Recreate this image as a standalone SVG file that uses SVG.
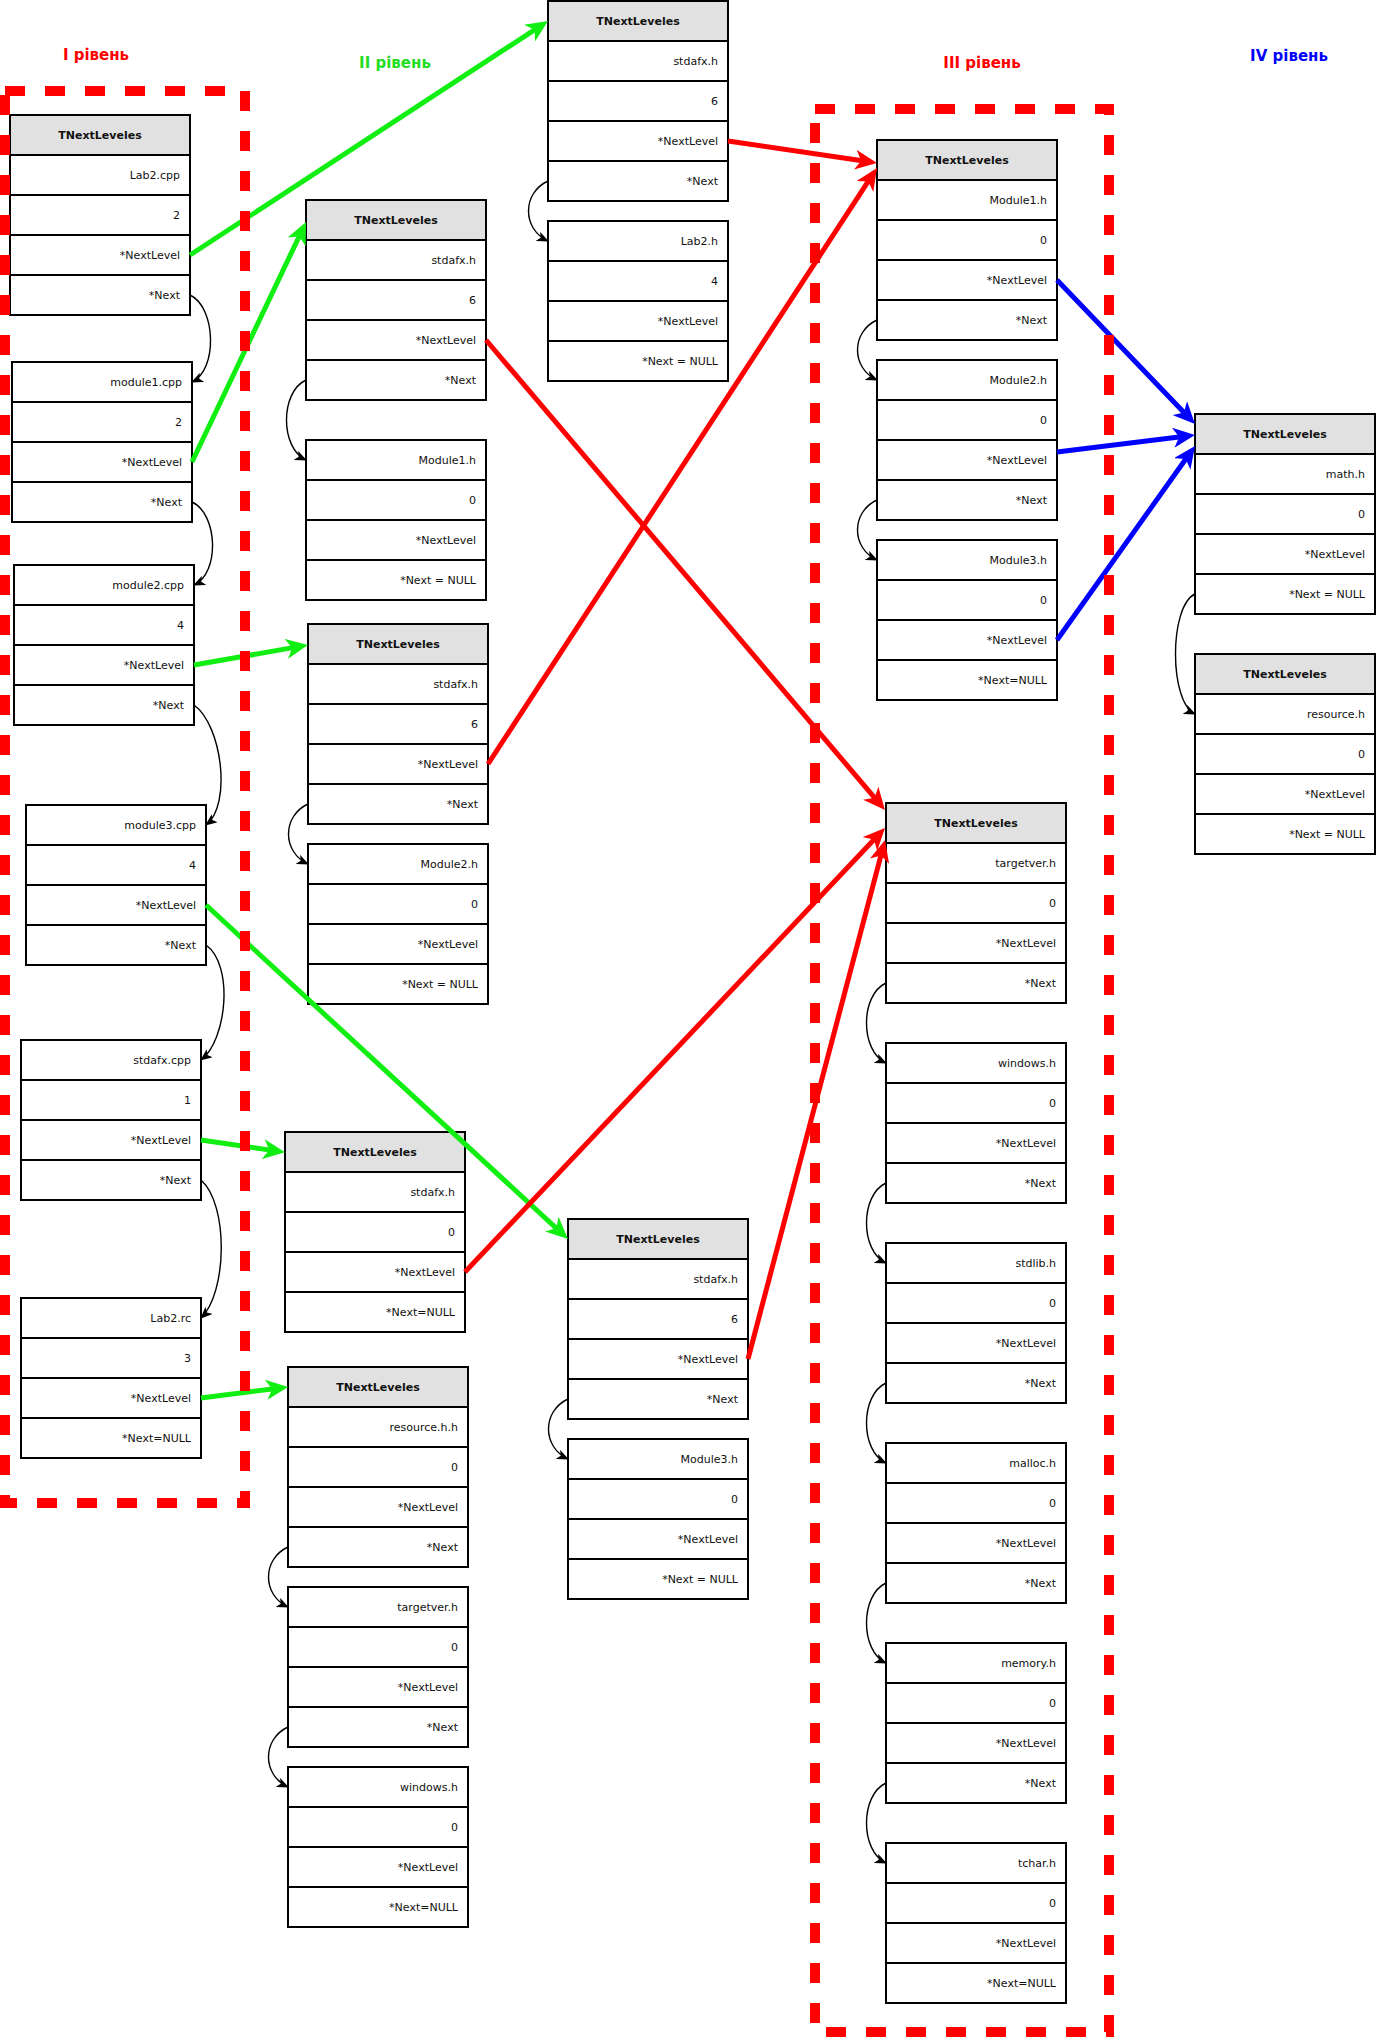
<svg xmlns="http://www.w3.org/2000/svg" width="1376" height="2039" viewBox="0 0 1376 2039">
<style>
.c{fill:#fff;stroke:#000;stroke-width:2}
.hd{fill:#e1e1e1;stroke:#000;stroke-width:2}
.t{font-family:"DejaVu Sans",Verdana,sans-serif;font-size:11px;fill:#111;text-anchor:end}
.h{font-family:"DejaVu Sans",Verdana,sans-serif;font-size:11px;font-weight:bold;fill:#111;text-anchor:middle}
.lv{font-family:"DejaVu Sans",Verdana,sans-serif;font-size:15px;font-weight:bold;text-anchor:middle}
.g{stroke:#11ee11;stroke-width:5;fill:none;marker-end:url(#ag)}
.r{stroke:#ff0000;stroke-width:5;fill:none;marker-end:url(#ar)}
.b{stroke:#0000ff;stroke-width:5;fill:none;marker-end:url(#ab)}
.k{stroke:#000;stroke-width:1.4;fill:none;marker-end:url(#ak)}
.dash{fill:none;stroke:#ff0000;stroke-width:10;stroke-dasharray:20 20}
</style>
<defs>
<marker id="ag" markerUnits="userSpaceOnUse" viewBox="0 0 22 20" markerWidth="22" markerHeight="20" refX="14" refY="10" orient="auto"><path d="M0,0 L22,10 L0,20 L6,10 Z" fill="#11ee11"/></marker>
<marker id="ar" markerUnits="userSpaceOnUse" viewBox="0 0 22 20" markerWidth="22" markerHeight="20" refX="14" refY="10" orient="auto"><path d="M0,0 L22,10 L0,20 L6,10 Z" fill="#ff0000"/></marker>
<marker id="ab" markerUnits="userSpaceOnUse" viewBox="0 0 22 20" markerWidth="22" markerHeight="20" refX="14" refY="10" orient="auto"><path d="M0,0 L22,10 L0,20 L6,10 Z" fill="#0000ff"/></marker>
<marker id="ak" markerUnits="userSpaceOnUse" viewBox="0 0 12 10" markerWidth="12" markerHeight="10" refX="11" refY="5" orient="auto"><path d="M0,0 L12,5 L0,10 L3,5 Z" fill="#000"/></marker>
</defs>
<rect width="1376" height="2039" fill="#fff"/>

<g id="labels">
<text class="lv" x="96" y="60" fill="#ff0000">I рівень</text>
<text class="lv" x="395" y="68" fill="#22dd22">II рівень</text>
<text class="lv" x="982" y="68" fill="#ff0000">III рівень</text>
<text class="lv" x="1289" y="61" fill="#0000ff">IV рівень</text>
</g>

<!-- Level I -->
<g id="n1">
<rect class="hd" x="10" y="115" width="180" height="40"/>
<rect class="c" x="10" y="155" width="180" height="40"/><rect class="c" x="10" y="195" width="180" height="40"/><rect class="c" x="10" y="235" width="180" height="40"/><rect class="c" x="10" y="275" width="180" height="40"/>
<text class="h" x="100" y="139">TNextLeveles</text>
<text class="t" x="180" y="179">Lab2.cpp</text><text class="t" x="180" y="219">2</text><text class="t" x="180" y="259">*NextLevel</text><text class="t" x="180" y="299">*Next</text>
</g>
<g id="n2">
<rect class="c" x="12" y="362" width="180" height="40"/><rect class="c" x="12" y="402" width="180" height="40"/><rect class="c" x="12" y="442" width="180" height="40"/><rect class="c" x="12" y="482" width="180" height="40"/>
<text class="t" x="182" y="386">module1.cpp</text><text class="t" x="182" y="426">2</text><text class="t" x="182" y="466">*NextLevel</text><text class="t" x="182" y="506">*Next</text>
</g>
<g id="n3">
<rect class="c" x="14" y="565" width="180" height="40"/><rect class="c" x="14" y="605" width="180" height="40"/><rect class="c" x="14" y="645" width="180" height="40"/><rect class="c" x="14" y="685" width="180" height="40"/>
<text class="t" x="184" y="589">module2.cpp</text><text class="t" x="184" y="629">4</text><text class="t" x="184" y="669">*NextLevel</text><text class="t" x="184" y="709">*Next</text>
</g>
<g id="n4">
<rect class="c" x="26" y="805" width="180" height="40"/><rect class="c" x="26" y="845" width="180" height="40"/><rect class="c" x="26" y="885" width="180" height="40"/><rect class="c" x="26" y="925" width="180" height="40"/>
<text class="t" x="196" y="829">module3.cpp</text><text class="t" x="196" y="869">4</text><text class="t" x="196" y="909">*NextLevel</text><text class="t" x="196" y="949">*Next</text>
</g>
<g id="n5">
<rect class="c" x="21" y="1040" width="180" height="40"/><rect class="c" x="21" y="1080" width="180" height="40"/><rect class="c" x="21" y="1120" width="180" height="40"/><rect class="c" x="21" y="1160" width="180" height="40"/>
<text class="t" x="191" y="1064">stdafx.cpp</text><text class="t" x="191" y="1104">1</text><text class="t" x="191" y="1144">*NextLevel</text><text class="t" x="191" y="1184">*Next</text>
</g>
<g id="n6">
<rect class="c" x="21" y="1298" width="180" height="40"/><rect class="c" x="21" y="1338" width="180" height="40"/><rect class="c" x="21" y="1378" width="180" height="40"/><rect class="c" x="21" y="1418" width="180" height="40"/>
<text class="t" x="191" y="1322">Lab2.rc</text><text class="t" x="191" y="1362">3</text><text class="t" x="191" y="1402">*NextLevel</text><text class="t" x="191" y="1442">*Next=NULL</text>
</g>

<!-- Level II -->
<g id="e1">
<rect class="hd" x="548" y="1" width="180" height="40"/>
<rect class="c" x="548" y="41" width="180" height="40"/><rect class="c" x="548" y="81" width="180" height="40"/><rect class="c" x="548" y="121" width="180" height="40"/><rect class="c" x="548" y="161" width="180" height="40"/>
<text class="h" x="638" y="25">TNextLeveles</text>
<text class="t" x="718" y="65">stdafx.h</text><text class="t" x="718" y="105">6</text><text class="t" x="718" y="145">*NextLevel</text><text class="t" x="718" y="185">*Next</text>
</g>
<g id="e2">
<rect class="c" x="548" y="221" width="180" height="40"/><rect class="c" x="548" y="261" width="180" height="40"/><rect class="c" x="548" y="301" width="180" height="40"/><rect class="c" x="548" y="341" width="180" height="40"/>
<text class="t" x="718" y="245">Lab2.h</text><text class="t" x="718" y="285">4</text><text class="t" x="718" y="325">*NextLevel</text><text class="t" x="718" y="365">*Next = NULL</text>
</g>
<g id="a1">
<rect class="hd" x="306" y="200" width="180" height="40"/>
<rect class="c" x="306" y="240" width="180" height="40"/><rect class="c" x="306" y="280" width="180" height="40"/><rect class="c" x="306" y="320" width="180" height="40"/><rect class="c" x="306" y="360" width="180" height="40"/>
<text class="h" x="396" y="224">TNextLeveles</text>
<text class="t" x="476" y="264">stdafx.h</text><text class="t" x="476" y="304">6</text><text class="t" x="476" y="344">*NextLevel</text><text class="t" x="476" y="384">*Next</text>
</g>
<g id="a2">
<rect class="c" x="306" y="440" width="180" height="40"/><rect class="c" x="306" y="480" width="180" height="40"/><rect class="c" x="306" y="520" width="180" height="40"/><rect class="c" x="306" y="560" width="180" height="40"/>
<text class="t" x="476" y="464">Module1.h</text><text class="t" x="476" y="504">0</text><text class="t" x="476" y="544">*NextLevel</text><text class="t" x="476" y="584">*Next = NULL</text>
</g>
<g id="b1">
<rect class="hd" x="308" y="624" width="180" height="40"/>
<rect class="c" x="308" y="664" width="180" height="40"/><rect class="c" x="308" y="704" width="180" height="40"/><rect class="c" x="308" y="744" width="180" height="40"/><rect class="c" x="308" y="784" width="180" height="40"/>
<text class="h" x="398" y="648">TNextLeveles</text>
<text class="t" x="478" y="688">stdafx.h</text><text class="t" x="478" y="728">6</text><text class="t" x="478" y="768">*NextLevel</text><text class="t" x="478" y="808">*Next</text>
</g>
<g id="b2">
<rect class="c" x="308" y="844" width="180" height="40"/><rect class="c" x="308" y="884" width="180" height="40"/><rect class="c" x="308" y="924" width="180" height="40"/><rect class="c" x="308" y="964" width="180" height="40"/>
<text class="t" x="478" y="868">Module2.h</text><text class="t" x="478" y="908">0</text><text class="t" x="478" y="948">*NextLevel</text><text class="t" x="478" y="988">*Next = NULL</text>
</g>
<g id="c1">
<rect class="hd" x="285" y="1132" width="180" height="40"/>
<rect class="c" x="285" y="1172" width="180" height="40"/><rect class="c" x="285" y="1212" width="180" height="40"/><rect class="c" x="285" y="1252" width="180" height="40"/><rect class="c" x="285" y="1292" width="180" height="40"/>
<text class="h" x="375" y="1156">TNextLeveles</text>
<text class="t" x="455" y="1196">stdafx.h</text><text class="t" x="455" y="1236">0</text><text class="t" x="455" y="1276">*NextLevel</text><text class="t" x="455" y="1316">*Next=NULL</text>
</g>
<g id="d1">
<rect class="hd" x="288" y="1367" width="180" height="40"/>
<rect class="c" x="288" y="1407" width="180" height="40"/><rect class="c" x="288" y="1447" width="180" height="40"/><rect class="c" x="288" y="1487" width="180" height="40"/><rect class="c" x="288" y="1527" width="180" height="40"/>
<text class="h" x="378" y="1391">TNextLeveles</text>
<text class="t" x="458" y="1431">resource.h.h</text><text class="t" x="458" y="1471">0</text><text class="t" x="458" y="1511">*NextLevel</text><text class="t" x="458" y="1551">*Next</text>
</g>
<g id="d2">
<rect class="c" x="288" y="1587" width="180" height="40"/><rect class="c" x="288" y="1627" width="180" height="40"/><rect class="c" x="288" y="1667" width="180" height="40"/><rect class="c" x="288" y="1707" width="180" height="40"/>
<text class="t" x="458" y="1611">targetver.h</text><text class="t" x="458" y="1651">0</text><text class="t" x="458" y="1691">*NextLevel</text><text class="t" x="458" y="1731">*Next</text>
</g>
<g id="d3">
<rect class="c" x="288" y="1767" width="180" height="40"/><rect class="c" x="288" y="1807" width="180" height="40"/><rect class="c" x="288" y="1847" width="180" height="40"/><rect class="c" x="288" y="1887" width="180" height="40"/>
<text class="t" x="458" y="1791">windows.h</text><text class="t" x="458" y="1831">0</text><text class="t" x="458" y="1871">*NextLevel</text><text class="t" x="458" y="1911">*Next=NULL</text>
</g>
<g id="f1">
<rect class="hd" x="568" y="1219" width="180" height="40"/>
<rect class="c" x="568" y="1259" width="180" height="40"/><rect class="c" x="568" y="1299" width="180" height="40"/><rect class="c" x="568" y="1339" width="180" height="40"/><rect class="c" x="568" y="1379" width="180" height="40"/>
<text class="h" x="658" y="1243">TNextLeveles</text>
<text class="t" x="738" y="1283">stdafx.h</text><text class="t" x="738" y="1323">6</text><text class="t" x="738" y="1363">*NextLevel</text><text class="t" x="738" y="1403">*Next</text>
</g>
<g id="f2">
<rect class="c" x="568" y="1439" width="180" height="40"/><rect class="c" x="568" y="1479" width="180" height="40"/><rect class="c" x="568" y="1519" width="180" height="40"/><rect class="c" x="568" y="1559" width="180" height="40"/>
<text class="t" x="738" y="1463">Module3.h</text><text class="t" x="738" y="1503">0</text><text class="t" x="738" y="1543">*NextLevel</text><text class="t" x="738" y="1583">*Next = NULL</text>
</g>

<!-- Level III -->
<g id="g1">
<rect class="hd" x="877" y="140" width="180" height="40"/>
<rect class="c" x="877" y="180" width="180" height="40"/><rect class="c" x="877" y="220" width="180" height="40"/><rect class="c" x="877" y="260" width="180" height="40"/><rect class="c" x="877" y="300" width="180" height="40"/>
<text class="h" x="967" y="164">TNextLeveles</text>
<text class="t" x="1047" y="204">Module1.h</text><text class="t" x="1047" y="244">0</text><text class="t" x="1047" y="284">*NextLevel</text><text class="t" x="1047" y="324">*Next</text>
</g>
<g id="g2">
<rect class="c" x="877" y="360" width="180" height="40"/><rect class="c" x="877" y="400" width="180" height="40"/><rect class="c" x="877" y="440" width="180" height="40"/><rect class="c" x="877" y="480" width="180" height="40"/>
<text class="t" x="1047" y="384">Module2.h</text><text class="t" x="1047" y="424">0</text><text class="t" x="1047" y="464">*NextLevel</text><text class="t" x="1047" y="504">*Next</text>
</g>
<g id="g3">
<rect class="c" x="877" y="540" width="180" height="40"/><rect class="c" x="877" y="580" width="180" height="40"/><rect class="c" x="877" y="620" width="180" height="40"/><rect class="c" x="877" y="660" width="180" height="40"/>
<text class="t" x="1047" y="564">Module3.h</text><text class="t" x="1047" y="604">0</text><text class="t" x="1047" y="644">*NextLevel</text><text class="t" x="1047" y="684">*Next=NULL</text>
</g>
<g id="h1">
<rect class="hd" x="886" y="803" width="180" height="40"/>
<rect class="c" x="886" y="843" width="180" height="40"/><rect class="c" x="886" y="883" width="180" height="40"/><rect class="c" x="886" y="923" width="180" height="40"/><rect class="c" x="886" y="963" width="180" height="40"/>
<text class="h" x="976" y="827">TNextLeveles</text>
<text class="t" x="1056" y="867">targetver.h</text><text class="t" x="1056" y="907">0</text><text class="t" x="1056" y="947">*NextLevel</text><text class="t" x="1056" y="987">*Next</text>
</g>
<g id="h2">
<rect class="c" x="886" y="1043" width="180" height="40"/><rect class="c" x="886" y="1083" width="180" height="40"/><rect class="c" x="886" y="1123" width="180" height="40"/><rect class="c" x="886" y="1163" width="180" height="40"/>
<text class="t" x="1056" y="1067">windows.h</text><text class="t" x="1056" y="1107">0</text><text class="t" x="1056" y="1147">*NextLevel</text><text class="t" x="1056" y="1187">*Next</text>
</g>
<g id="h3">
<rect class="c" x="886" y="1243" width="180" height="40"/><rect class="c" x="886" y="1283" width="180" height="40"/><rect class="c" x="886" y="1323" width="180" height="40"/><rect class="c" x="886" y="1363" width="180" height="40"/>
<text class="t" x="1056" y="1267">stdlib.h</text><text class="t" x="1056" y="1307">0</text><text class="t" x="1056" y="1347">*NextLevel</text><text class="t" x="1056" y="1387">*Next</text>
</g>
<g id="h4">
<rect class="c" x="886" y="1443" width="180" height="40"/><rect class="c" x="886" y="1483" width="180" height="40"/><rect class="c" x="886" y="1523" width="180" height="40"/><rect class="c" x="886" y="1563" width="180" height="40"/>
<text class="t" x="1056" y="1467">malloc.h</text><text class="t" x="1056" y="1507">0</text><text class="t" x="1056" y="1547">*NextLevel</text><text class="t" x="1056" y="1587">*Next</text>
</g>
<g id="h5">
<rect class="c" x="886" y="1643" width="180" height="40"/><rect class="c" x="886" y="1683" width="180" height="40"/><rect class="c" x="886" y="1723" width="180" height="40"/><rect class="c" x="886" y="1763" width="180" height="40"/>
<text class="t" x="1056" y="1667">memory.h</text><text class="t" x="1056" y="1707">0</text><text class="t" x="1056" y="1747">*NextLevel</text><text class="t" x="1056" y="1787">*Next</text>
</g>
<g id="h6">
<rect class="c" x="886" y="1843" width="180" height="40"/><rect class="c" x="886" y="1883" width="180" height="40"/><rect class="c" x="886" y="1923" width="180" height="40"/><rect class="c" x="886" y="1963" width="180" height="40"/>
<text class="t" x="1056" y="1867">tchar.h</text><text class="t" x="1056" y="1907">0</text><text class="t" x="1056" y="1947">*NextLevel</text><text class="t" x="1056" y="1987">*Next=NULL</text>
</g>

<!-- Level IV -->
<g id="i1">
<rect class="hd" x="1195" y="414" width="180" height="40"/>
<rect class="c" x="1195" y="454" width="180" height="40"/><rect class="c" x="1195" y="494" width="180" height="40"/><rect class="c" x="1195" y="534" width="180" height="40"/><rect class="c" x="1195" y="574" width="180" height="40"/>
<text class="h" x="1285" y="438">TNextLeveles</text>
<text class="t" x="1365" y="478">math.h</text><text class="t" x="1365" y="518">0</text><text class="t" x="1365" y="558">*NextLevel</text><text class="t" x="1365" y="598">*Next = NULL</text>
</g>
<g id="i2">
<rect class="hd" x="1195" y="654" width="180" height="40"/>
<rect class="c" x="1195" y="694" width="180" height="40"/><rect class="c" x="1195" y="734" width="180" height="40"/><rect class="c" x="1195" y="774" width="180" height="40"/><rect class="c" x="1195" y="814" width="180" height="40"/>
<text class="h" x="1285" y="678">TNextLeveles</text>
<text class="t" x="1365" y="718">resource.h</text><text class="t" x="1365" y="758">0</text><text class="t" x="1365" y="798">*NextLevel</text><text class="t" x="1365" y="838">*Next = NULL</text>
</g>

<g id="connectors">
<!-- green: level I -> II -->
<path class="g" d="M190,255 L541.3,25.4"/>
<path class="g" d="M192,462 L302.6,229.2"/>
<path class="g" d="M194,665 L300.1,646.4"/>
<path class="g" d="M206,905 L562.1,1233.6"/>
<path class="g" d="M201,1140 L277.1,1151.1"/>
<path class="g" d="M201,1398 L280.1,1388"/>
<!-- red: level II -> III -->
<path class="r" d="M728,141 L869.1,161.8"/>
<path class="r" d="M486,340 L879.8,803.9"/>
<path class="r" d="M488,764 L872.6,174.7"/>
<path class="r" d="M465,1272 L879.5,833.8"/>
<path class="r" d="M748,1359 L883,847.7"/>
<!-- blue: level III -> IV -->
<path class="b" d="M1057,280 L1189.5,418.2"/>
<path class="b" d="M1057,452 L1187.1,436"/>
<path class="b" d="M1057,640 L1190.4,452.5"/>
<!-- black: Next links -->
<path class="k" d="M190,295 C216,307 218,370 192,382"/>
<path class="k" d="M192,502 C218,514 220,573 194,585"/>
<path class="k" d="M194,705 C222,725 232,805 206,825"/>
<path class="k" d="M206,945 C234,965 227,1040 201,1060"/>
<path class="k" d="M201,1180 C229,1205 227,1293 201,1318"/>
<path class="k" d="M548,181 C522,193 522,229 548,241"/>
<path class="k" d="M306,380 C280,392 280,448 306,460"/>
<path class="k" d="M308,804 C282,816 282,852 308,864"/>
<path class="k" d="M288,1547 C262,1559 262,1595 288,1607"/>
<path class="k" d="M288,1727 C262,1739 262,1775 288,1787"/>
<path class="k" d="M568,1399 C542,1411 542,1447 568,1459"/>
<path class="k" d="M877,320 C851,332 851,368 877,380"/>
<path class="k" d="M877,500 C851,512 851,548 877,560"/>
<path class="k" d="M886,983 C860,995 860,1051 886,1063"/>
<path class="k" d="M886,1183 C860,1195 860,1251 886,1263"/>
<path class="k" d="M886,1383 C860,1395 860,1451 886,1463"/>
<path class="k" d="M886,1583 C860,1595 860,1651 886,1663"/>
<path class="k" d="M886,1783 C860,1795 860,1851 886,1863"/>
<path class="k" d="M1195,594 C1169,606 1169,702 1195,714"/>
</g>

<g id="level-frames">
<rect class="dash" x="5" y="91" width="240" height="1412"/>
<rect class="dash" x="815" y="109" width="294" height="1923"/>
</g>
</svg>
